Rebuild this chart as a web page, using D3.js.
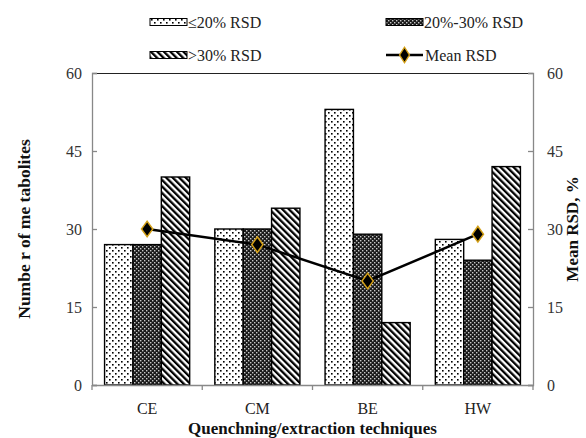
<!DOCTYPE html>
<html><head><meta charset="utf-8">
<script src="https://cdn.jsdelivr.net/npm/d3@7/dist/d3.min.js"></script>
<style>
body{margin:0;background:#fff;}
text{font-family:"Liberation Serif","DejaVu Serif",serif;}
</style></head>
<body><svg id="c" width="586" height="438"></svg>
<script>
const categories = ["CE","CM","BE","HW"];
const seriesNames = ["≤20% RSD","20%-30% RSD",">30% RSD"];
const low = [27,30,53,28];
const mid = [27,30,29,24];
const high = [40,34,12,42];
const meanRSD = [30,27,20,29];
const leftTicks = [0,15,30,45,60];
const rightTicks = [0,15,30,45,60];
const lineName = "Mean RSD";
const xTitle = "Quenchning/extraction techniques";
const yTitle = "Numbe r of me tabolites";
const y2Title = "Mean RSD, %";

const FONT = "Liberation Serif";
const svg = d3.select("#c");
const L=92,R=533,T=73,B=385;
const defs = svg.append("defs");
const p1 = defs.append("pattern").attr("id","pDots").attr("patternUnits","userSpaceOnUse").attr("width",6).attr("height",6);
p1.append("rect").attr("width",6).attr("height",6).attr("fill","#fff");
p1.append("rect").attr("x",1).attr("y",1).attr("width",1.6).attr("height",1.6).attr("fill","#000");
p1.append("rect").attr("x",4).attr("y",4).attr("width",1.6).attr("height",1.6).attr("fill","#000");
const p2 = defs.append("pattern").attr("id","pDense").attr("patternUnits","userSpaceOnUse").attr("width",4).attr("height",4);
p2.append("rect").attr("width",4).attr("height",4).attr("fill","#1a1a1a");
p2.append("rect").attr("x",0).attr("y",0).attr("width",1.4).attr("height",1.4).attr("fill","#c8c8c8");
p2.append("rect").attr("x",2).attr("y",2).attr("width",1.4).attr("height",1.4).attr("fill","#c8c8c8");
const p3 = defs.append("pattern").attr("id","pStripe").attr("patternUnits","userSpaceOnUse").attr("width",4.6).attr("height",4.6).attr("patternTransform","rotate(-45)");
p3.append("rect").attr("width",4.6).attr("height",4.6).attr("fill","#fff");
p3.append("rect").attr("width",2.3).attr("height",4.6).attr("fill","#000");
const fills = ["url(#pDots)","url(#pDense)","url(#pStripe)"];
const values = [low,mid,high];

const x0 = d3.scaleBand().domain(categories).range([L,R]).padding(0);
const bw = x0.bandwidth();
const x1 = d3.scaleBand().domain(d3.range(3)).range([bw*0.114, bw*0.886]).padding(0);
const y = d3.scaleLinear().domain([0,60]).range([B,T]);
const y2 = d3.scaleLinear().domain([0,60]).range([B,T]);

svg.append("line").attr("x1",L).attr("x2",R).attr("y1",T+0.5).attr("y2",T+0.5).attr("stroke","#222").attr("stroke-width",1.2);

categories.forEach((c,ci)=>{
  values.forEach((arr,si)=>{
    svg.append("rect")
      .attr("x",x0(c)+x1(si)).attr("width",x1.bandwidth())
      .attr("y",y(arr[ci])).attr("height",B-y(arr[ci]))
      .attr("fill",fills[si]).attr("stroke","#000").attr("stroke-width",1.4);
  });
});

const axisColor="#888";
const gl = svg.append("g").attr("transform",`translate(${L},0)`).call(d3.axisRight(y).tickValues(leftTicks).tickSize(5).tickFormat(""));
const gr = svg.append("g").attr("transform",`translate(${R},0)`).call(d3.axisLeft(y2).tickValues(rightTicks).tickSize(5).tickFormat(""));
const gx = svg.append("g").attr("transform",`translate(0,${B})`).call(d3.axisBottom(x0).tickValues([]).tickSize(0));
[gl,gr,gx].forEach(g=>{g.select(".domain").attr("stroke",axisColor).attr("stroke-width",1.3);g.selectAll(".tick line").attr("stroke",axisColor).attr("stroke-width",1.3);});
const bounds = categories.map(c=>x0(c)).concat([R]);
svg.selectAll(".xb").data(bounds).enter().append("line")
  .attr("x1",d=>d).attr("x2",d=>d).attr("y1",B).attr("y2",B+5).attr("stroke",axisColor).attr("stroke-width",1.3);

function txt(sel){ return sel.attr("font-family",FONT); }
txt(svg.selectAll(".lt").data(leftTicks).enter().append("text")
  .attr("x",L-10).attr("y",d=>y(d)).attr("dy","0.35em").attr("text-anchor","end")
  .attr("font-size",16).attr("fill","#333").text(d=>d));
txt(svg.selectAll(".rt").data(rightTicks).enter().append("text")
  .attr("x",R+14).attr("y",d=>y2(d)).attr("dy","0.35em").attr("text-anchor","start")
  .attr("font-size",16).attr("fill","#333").text(d=>d));
txt(svg.selectAll(".xt").data(categories).enter().append("text")
  .attr("x",d=>x0(d)+bw/2).attr("y",B+29).attr("text-anchor","middle")
  .attr("font-size",16).attr("fill","#222").text(d=>d));

txt(svg.append("text").attr("x",(L+R)/2).attr("y",434).attr("text-anchor","middle")
  .attr("font-size",17).attr("font-weight","bold").attr("fill","#111").text(xTitle));
txt(svg.append("text").attr("transform",`translate(30,${(T+B)/2}) rotate(-90)`).attr("text-anchor","middle")
  .attr("font-size",17.5).attr("font-weight","bold").attr("fill","#111").text(yTitle));
txt(svg.append("text").attr("transform",`translate(578,${(T+B)/2}) rotate(-90)`).attr("text-anchor","middle")
  .attr("font-size",17).attr("font-weight","bold").attr("fill","#111").text(y2Title));

const line = d3.line().x((d,i)=>x0(categories[i])+bw/2).y(d=>y2(d));
svg.append("path").datum(meanRSD).attr("d",line).attr("fill","none").attr("stroke","#000").attr("stroke-width",2.5);
const diamond = d3.symbol().type(d3.symbolDiamond).size(70);
svg.selectAll(".mk").data(meanRSD).enter().append("path")
  .attr("d",diamond).attr("transform",(d,i)=>`translate(${x0(categories[i])+bw/2},${y2(d)}) scale(1.25,1)`)
  .attr("fill","#000").attr("stroke","#D4A017").attr("stroke-width",1.3);

const legItems = [
  {name:seriesNames[0],fill:fills[0],x:150,y:22},
  {name:seriesNames[1],fill:fills[1],x:386,y:22},
  {name:seriesNames[2],fill:fills[2],x:150,y:55},
];
legItems.forEach(it=>{
  svg.append("rect").attr("x",it.x).attr("y",it.y-3.5).attr("width",37).attr("height",7)
    .attr("fill",it.fill).attr("stroke","#000").attr("stroke-width",1);
  txt(svg.append("text").attr("x",it.x+38).attr("y",it.y).attr("dy","0.35em")
    .attr("font-size",16).attr("fill","#222").text(it.name));
});
svg.append("line").attr("x1",386).attr("x2",423).attr("y1",55).attr("y2",55).attr("stroke","#000").attr("stroke-width",2.5);
svg.append("path").attr("d",diamond).attr("transform","translate(404.5,55) scale(1.1,1)")
  .attr("fill","#000").attr("stroke","#D4A017").attr("stroke-width",1.3);
txt(svg.append("text").attr("x",425).attr("y",55).attr("dy","0.35em")
  .attr("font-size",16).attr("fill","#222").text(lineName));
</script></body></html>
